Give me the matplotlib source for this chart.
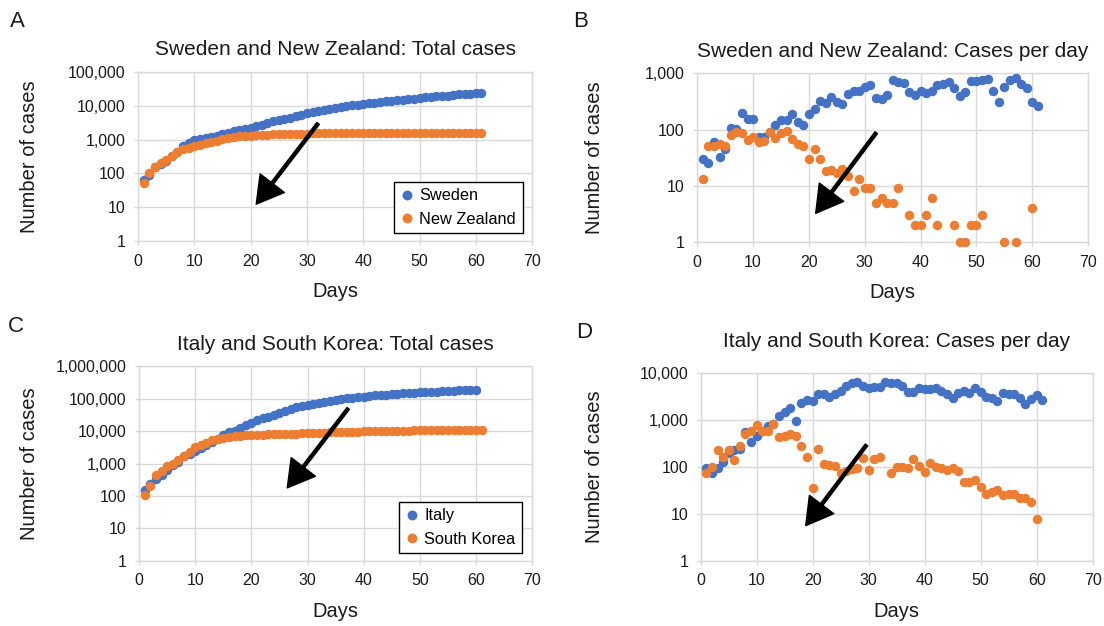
import numpy as np
import matplotlib.pyplot as plt
from matplotlib.ticker import FixedLocator, FuncFormatter, NullLocator
from matplotlib.transforms import blended_transform_factory

plt.rcParams['font.family'] = ['Liberation Sans', 'DejaVu Sans']

blue = '#4472C4'
orange = '#ED7D31'
grid_color = '#D9D9D9'

# Sweden / New Zealand
sweden_total = [66, 91, 152, 185, 231, 336, 438, 638, 792, 946,
                1019, 1092, 1182, 1302, 1448, 1594, 1781, 1915, 2035, 2222,
                2457, 2784, 3077, 3457, 3770, 4055, 4485, 4963, 5453, 6033,
                6663, 7033, 7378, 7784, 8554, 9244, 9914, 10384, 10790, 11268,
                11715, 12205, 12835, 13480, 14180, 14735, 15130, 15600, 16330, 17070,
                17840, 18640, 19130, 19435, 20015, 20775, 21600, 22255, 22805, 23115, 23382]
nz_total = [52, 102, 152, 207, 257, 336, 427, 513, 577, 652,
            711, 774, 865, 936, 1022, 1115, 1184, 1239, 1289, 1319,
            1364, 1394, 1412, 1431, 1448, 1468, 1483, 1491, 1504, 1513,
            1522, 1527, 1533, 1538, 1543, 1552, 1552, 1555, 1557, 1559,
            1562, 1568, 1570, 1570, 1570, 1572, 1573, 1574, 1576, 1578,
            1581, 1581, 1581, 1581, 1582, 1582, 1583, 1583, 1583, 1587, 1587]
sweden_daily = [30, 25, 61, 33, 46, 105, 102, 200, 154, 154,
                73, 73, 90, 120, 146, 146, 187, 134, 120, 187,
                235, 327, 293, 380, 313, 285, 430, 478, 490, 580,
                630, 370, 345, 406, 770, 690, 670, 470, 406, 478,
                447, 490, 630, 645, 700, 555, 395, 470, 730, 740,
                770, 800, 490, 305, 580, 760, 825, 655, 550, 310, 267]
nz_daily = [13, 50, 50, 55, 50, 79, 91, 86, 64, 75,
            59, 63, 91, 71, 86, 93, 69, 55, 50, 30,
            45, 30, 18, 19, 17, 20, 15, 8, 13, 9,
            9, 5, 6, 5, 5, 9, 0, 3, 2, 2,
            3, 6, 2, 0, 0, 2, 1, 1, 2, 2,
            3, 0, 0, 0, 1, 0, 1, 0, 0, 4, 0]

# Italy / South Korea
italy_total = [158, 232, 326, 457, 654, 886, 1126, 1696, 2035, 2495,
               3095, 3855, 4685, 5915, 7435, 9285, 10255, 12555, 15255, 17755,
               21315, 24915, 28065, 31625, 35895, 41345, 47495, 54145, 59595, 64395,
               69595, 74795, 81225, 87375, 93525, 98895, 102965, 107035, 111835, 116395,
               120955, 125755, 130025, 133625, 136555, 140425, 144625, 148495, 153295, 157365,
               160515, 163445, 166065, 169935, 173495, 177055, 180085, 182305, 185105, 188555]
korea_total = [106, 205, 437, 603, 835, 977, 1259, 1759, 2349, 3139,
               3729, 4329, 5159, 5589, 6049, 6559, 7009, 7284, 7450, 7485,
               7725, 7840, 7951, 8058, 8134, 8218, 8308, 8402, 8556, 8643,
               8790, 8952, 9052, 9128, 9230, 9332, 9426, 9573, 9678, 9756,
               9881, 9983, 10077, 10164, 10258, 10339, 10387, 10435, 10488, 10526,
               10553, 10583, 10615, 10640, 10667, 10694, 10716, 10738, 10756, 10764, 10774]
italy_daily = [94, 74, 94, 131, 197, 232, 240, 570, 339, 460,
               600, 760, 830, 1230, 1520, 1850, 970, 2300, 2700, 2500,
               3560, 3600, 3150, 3560, 4270, 5450, 6150, 6650, 5450, 4800,
               5200, 5200, 6430, 6150, 6150, 5370, 4070, 4070, 4800, 4560,
               4560, 4800, 4270, 3600, 2930, 3870, 4200, 3870, 4800, 4070,
               3150, 2930, 2620, 3870, 3560, 3560, 3030, 2220, 2800, 3450, 2650]
korea_daily = [74, 99, 232, 166, 232, 142, 282, 500, 590, 790,
               590, 600, 830, 430, 460, 510, 450, 275, 166, 35,
               240, 115, 111, 107, 76, 84, 90, 94, 154, 87,
               147, 162, None, 76, 102, 102, 94, 147, 105, 78,
               125, 102, 94, 87, 94, 81, 48, 48, 53, 38,
               27, 30, 32, 25, 27, 27, 22, 22, 18, 8]


def plot_series(ax, values, color, label):
    y = np.array(values, dtype=float)
    x = np.arange(1, len(y) + 1)
    ok = y > 0  # zero days can't go on a log axis
    ax.plot(x[ok], y[ok], 'o', color=color, markersize=5.8, label=label,
            clip_on=False, zorder=3)


def style_axes(ax, title, top_exp, ylabel_x, title_pad=12):
    ax.set_yscale('log')
    ax.set_xlim(0, 70)
    ax.set_ylim(1, 10 ** top_exp)
    ax.xaxis.set_major_locator(FixedLocator(range(0, 71, 10)))
    ax.yaxis.set_major_locator(FixedLocator([10 ** i for i in range(top_exp + 1)]))
    ax.yaxis.set_minor_locator(NullLocator())
    ax.yaxis.set_major_formatter(FuncFormatter(lambda v, p: '{:,.0f}'.format(v)))
    ax.grid(True, color=grid_color, linewidth=1.0)
    ax.set_axisbelow(True)
    for s in ax.spines.values():
        s.set_color(grid_color)
        s.set_linewidth(1.0)
    ax.tick_params(length=3, width=1.0, color=grid_color, labelsize=11.5,
                   labelcolor='#1a1a1a', pad=6)
    ax.set_title(title, fontsize=15, pad=title_pad, color='#1a1a1a')
    ax.set_xlabel('Days', fontsize=14.5, labelpad=10, color='#1a1a1a')
    ax.set_ylabel('Number of cases', fontsize=14.5, color='#1a1a1a')
    # keep the y label in a fixed pixel column whatever the tick label widths
    ax.yaxis.set_label_coords(ylabel_x / 1104, 0.5,
                              transform=blended_transform_factory(fig.transFigure,
                                                                  ax.transAxes))


def draw_arrow(ax, tail, head):
    ax.annotate('', xy=head, xytext=tail, xycoords='axes fraction',
                textcoords='axes fraction',
                arrowprops=dict(width=2.2, headwidth=22, headlength=19,
                                shrink=0, color='black'), zorder=5)


def add_legend(ax, anchor):
    leg = ax.legend(loc='lower right', bbox_to_anchor=anchor, borderaxespad=0,
                    fontsize=11.8, handlelength=0.8, handletextpad=0.35,
                    borderpad=0.4, labelspacing=0.5, fancybox=False,
                    framealpha=1, edgecolor='black', markerscale=1.05)
    leg.get_frame().set_linewidth(1.0)


fig = plt.figure(figsize=(11.04, 6.26), dpi=100)

ax_a = fig.add_axes([0.125, 0.615, 0.357, 0.270])
ax_b = fig.add_axes([0.6316, 0.6134, 0.354, 0.2695])
ax_c = fig.add_axes([0.126, 0.104, 0.356, 0.311])
ax_d = fig.add_axes([0.6347, 0.104, 0.355, 0.2998])

plot_series(ax_a, sweden_total, blue, 'Sweden')
plot_series(ax_a, nz_total, orange, 'New Zealand')
style_axes(ax_a, 'Sweden and New Zealand: Total cases', 5, 39)
add_legend(ax_a, (0.976, 0.046))
draw_arrow(ax_a, (0.457, 0.696), (0.30, 0.218))

plot_series(ax_b, sweden_daily, blue, 'Sweden')
plot_series(ax_b, nz_daily, orange, 'New Zealand')
style_axes(ax_b, 'Sweden and New Zealand: Cases per day', 3, 604)
draw_arrow(ax_b, (0.458, 0.648), (0.303, 0.170))

plot_series(ax_c, italy_total, blue, 'Italy')
plot_series(ax_c, korea_total, orange, 'South Korea')
style_axes(ax_c, 'Italy and South Korea: Total cases', 6, 39)
add_legend(ax_c, (0.974, 0.04))
draw_arrow(ax_c, (0.532, 0.783), (0.377, 0.375))

plot_series(ax_d, italy_daily, blue, 'Italy')
plot_series(ax_d, korea_daily, orange, 'South Korea')
style_axes(ax_d, 'Italy and South Korea: Cases per day', 4, 604, title_pad=19)
draw_arrow(ax_d, (0.423, 0.618), (0.268, 0.188))

for letter, x, y in [('A', 10, 11), ('B', 573, 11), ('C', 8, 316), ('D', 576, 322)]:
    fig.text(x / 1104, 1 - y / 626, letter, fontsize=16, ha='left', va='top',
             color='#1a1a1a')

fig.savefig('out.png', dpi=100)
